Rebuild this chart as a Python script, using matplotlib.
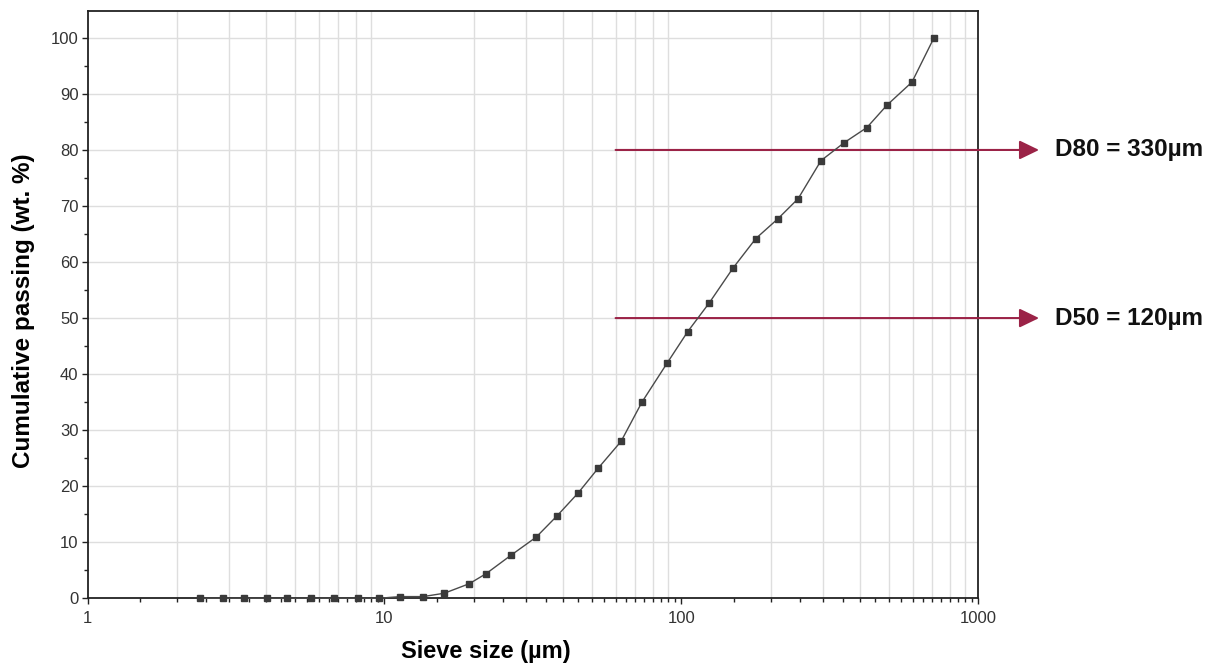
import numpy as np
import matplotlib
matplotlib.use("Agg")
import matplotlib.pyplot as plt
from matplotlib.ticker import FixedLocator, NullFormatter, FixedFormatter

plt.rcParams['font.family'] = ['Liberation Sans', 'DejaVu Sans']

# sieve analysis: aperture (um) vs cumulative passing (wt. %)
sieve_um = [2.39, 2.86, 3.36, 4.02, 4.70, 5.66, 6.76, 8.14, 9.58, 11.3, 13.5,
            15.9, 19.3, 22.0, 26.7, 32.4, 38.1, 44.9, 52.4, 62.6, 73.6, 89.3,
            105, 124, 149, 178, 211, 247, 295, 353, 421, 492, 597, 708]
passing = [0.0, 0.0, 0.0, 0.0, 0.0, 0.0, 0.0, 0.0, 0.0, 0.3, 0.3,
           0.9, 2.6, 4.4, 7.7, 10.9, 14.7, 18.8, 23.2, 28.0, 35.0, 41.9,
           47.6, 52.7, 58.9, 64.2, 67.7, 71.3, 78.1, 81.3, 84.0, 88.0, 92.1, 100.0]

# characteristic sizes marked on the chart
d_levels = [80, 50]
d_labels = ["D80 = 330\u00b5m", "D50 = 120\u00b5m"]
line_start = 60

x_major = [1, 10, 100, 1000]
y_major = list(range(0, 101, 10))

RED = "#9b2347"

fig = plt.figure(figsize=(12.17, 6.66), dpi=100)
ax = fig.add_axes([0.0719, 0.1017, 0.7321, 0.8818])

ax.set_xscale("log")
ax.set_xlim(1, 1000)
ax.set_ylim(0, 104.8)

# vertical grid at 2..9 of each decade, horizontal every 10 %
for dec in [1, 10, 100]:
    for m in range(2, 10):
        ax.axvline(dec * m, color="#dedede", lw=1.0, zorder=0)
for y in y_major[1:]:
    ax.axhline(y, color="#dedede", lw=1.0, zorder=0)

ax.plot(sieve_um, passing, color="#4a4a4a", lw=1.0, marker="s", markersize=3.8,
        markerfacecolor="#3a3a3a", markeredgecolor="#3a3a3a", zorder=5,
        clip_on=False)

# D80 / D50 arrows running out past the right edge
for lvl, lab in zip(d_levels, d_labels):
    ax.annotate("", xy=(1.068, lvl), xycoords=("axes fraction", "data"),
                xytext=(line_start, lvl), textcoords="data",
                arrowprops=dict(arrowstyle="-|>,head_length=1.2,head_width=0.58",
                                color=RED, lw=1.5, shrinkA=0, shrinkB=0,
                                mutation_scale=10),
                annotation_clip=False, zorder=4)
    ax.text(1.086, lvl, lab, transform=ax.get_yaxis_transform(),
            fontsize=17.5, fontweight="bold", va="center", ha="left",
            color="#111111", clip_on=False)

ax.xaxis.set_major_locator(FixedLocator(x_major))
ax.xaxis.set_major_formatter(FixedFormatter([str(v) for v in x_major]))
minor = [dec * m for dec in [1, 10, 100] for m in np.arange(1.5, 10, 0.5)]
ax.xaxis.set_minor_locator(FixedLocator(minor))
ax.xaxis.set_minor_formatter(NullFormatter())

ax.set_yticks(y_major)
ax.set_yticks(list(range(5, 101, 10)), minor=True)

ax.tick_params(axis="both", which="major", direction="out", length=4.5,
               width=1.0, labelsize=12, labelcolor="#333333", color="#222222")
ax.tick_params(axis="both", which="minor", direction="out", length=3,
               width=1.0, color="#222222")
ax.tick_params(axis="x", which="major", pad=5)
ax.tick_params(axis="y", which="major", pad=2)

for s in ax.spines.values():
    s.set_linewidth(1.3)
    s.set_color("#222222")

ax.set_xlabel("Sieve size (\u00b5m)", fontsize=17, fontweight="bold")
ax.xaxis.set_label_coords(0.447, -0.071)
ax.set_ylabel("Cumulative passing (wt. %)", fontsize=17.5, fontweight="bold")
ax.yaxis.set_label_coords(-0.0585, 0.49)

fig.savefig("out.png", dpi=100)
